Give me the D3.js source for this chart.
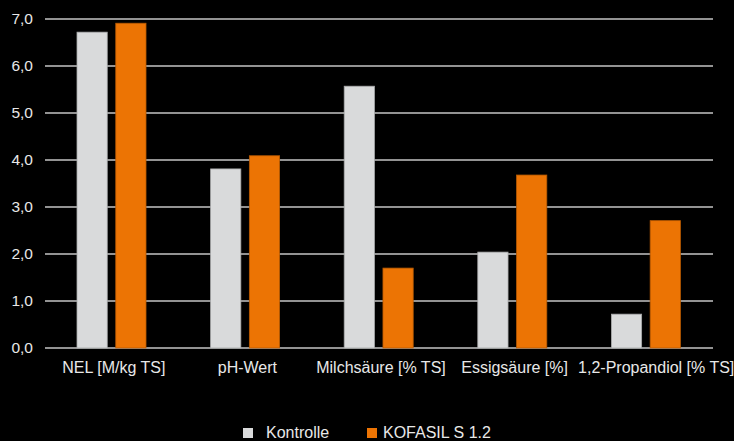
<!DOCTYPE html>
<html>
<head>
<meta charset="utf-8">
<script src="https://cdn.jsdelivr.net/npm/d3@7"></script>
<style>
body{margin:0;background:#000;}
text{font-family:"Liberation Sans",Arial,sans-serif;fill:#e8e8e8;}
</style>
</head>
<body>
<div id="chart"></div>
<script>
var kategorien=["NEL [M/kg TS]","pH-Wert","Milchsäure [% TS]","Essigsäure [%]","1,2-Propandiol [% TS]"];
var serien=["Kontrolle","KOFASIL S 1.2"];
var kontrolle=[6.72,3.81,5.57,2.04,0.72];
var kofasil=[6.91,4.09,1.70,3.68,2.71];
var yTicks=[0,1,2,3,4,5,6,7];
var farben=["#d9dadb","#ec7404"];
var rahmen=["#a9aaab","#b85a02"];

var breite=734,hoehe=441;
var links=45,rechts=713,oben=19,unten=348;

var svg=d3.select("#chart").append("svg").attr("width",breite).attr("height",hoehe);

var y=d3.scaleLinear().domain([0,7]).range([unten,oben]);
var x0=d3.scaleBand().domain(kategorien).range([links,rechts]).padding(0);
var x1=d3.scaleBand().domain(serien).range([32,101]).paddingInner(0.22);

// gitternetz
svg.selectAll(".grid").data(yTicks).enter().append("line")
	.attr("x1",links).attr("x2",rechts)
	.attr("y1",function(d){return y(d);}).attr("y2",function(d){return y(d);})
	.attr("stroke","#c4c4c4").attr("stroke-width",1.5);

svg.selectAll(".ytick").data(yTicks).enter().append("text")
	.attr("x",33).attr("y",function(d){return y(d)+5;})
	.attr("text-anchor","end").attr("font-size",15.5)
	.text(function(d){return d.toFixed(1).replace(".",",");});

var daten=kategorien.map(function(k,i){return {kat:k,werte:[kontrolle[i],kofasil[i]]};});

var gruppen=svg.selectAll(".gruppe").data(daten).enter().append("g")
	.attr("transform",function(d){return "translate("+x0(d.kat)+",0)";});

gruppen.selectAll("rect").data(function(d){return d.werte.map(function(v,j){return {serie:serien[j],wert:v,j:j};});})
	.enter().append("rect")
	.attr("x",function(d){return x1(d.serie);})
	.attr("width",x1.bandwidth())
	.attr("y",function(d){return y(d.wert);})
	.attr("height",function(d){return unten-y(d.wert);})
	.style("fill",function(d){return farben[d.j];})
	.attr("stroke",function(d){return rahmen[d.j];})
	.attr("stroke-width",0.8);

// letzte beschriftung etwas nach rechts, wie im original
svg.selectAll(".xlabel").data(kategorien).enter().append("text")
	.attr("x",function(d){return x0(d)+x0.bandwidth()/2;})
	.attr("dx",function(d,i){return i==kategorien.length-1?10:2;})
	.attr("y",373).attr("text-anchor","middle").attr("font-size",16)
	.text(function(d){return d;});

// legende
var legX=[243,367];
var leg=svg.selectAll(".leg").data(serien).enter().append("g")
	.attr("transform",function(d,i){return "translate("+legX[i]+",428)";});
leg.append("rect").attr("width",10).attr("height",10)
	.style("fill",function(d,i){return farben[i];});
leg.append("text").attr("x",function(d,i){return i==0?23:16;}).attr("y",10).attr("font-size",16)
	.text(function(d){return d;});
</script>
</body>
</html>
